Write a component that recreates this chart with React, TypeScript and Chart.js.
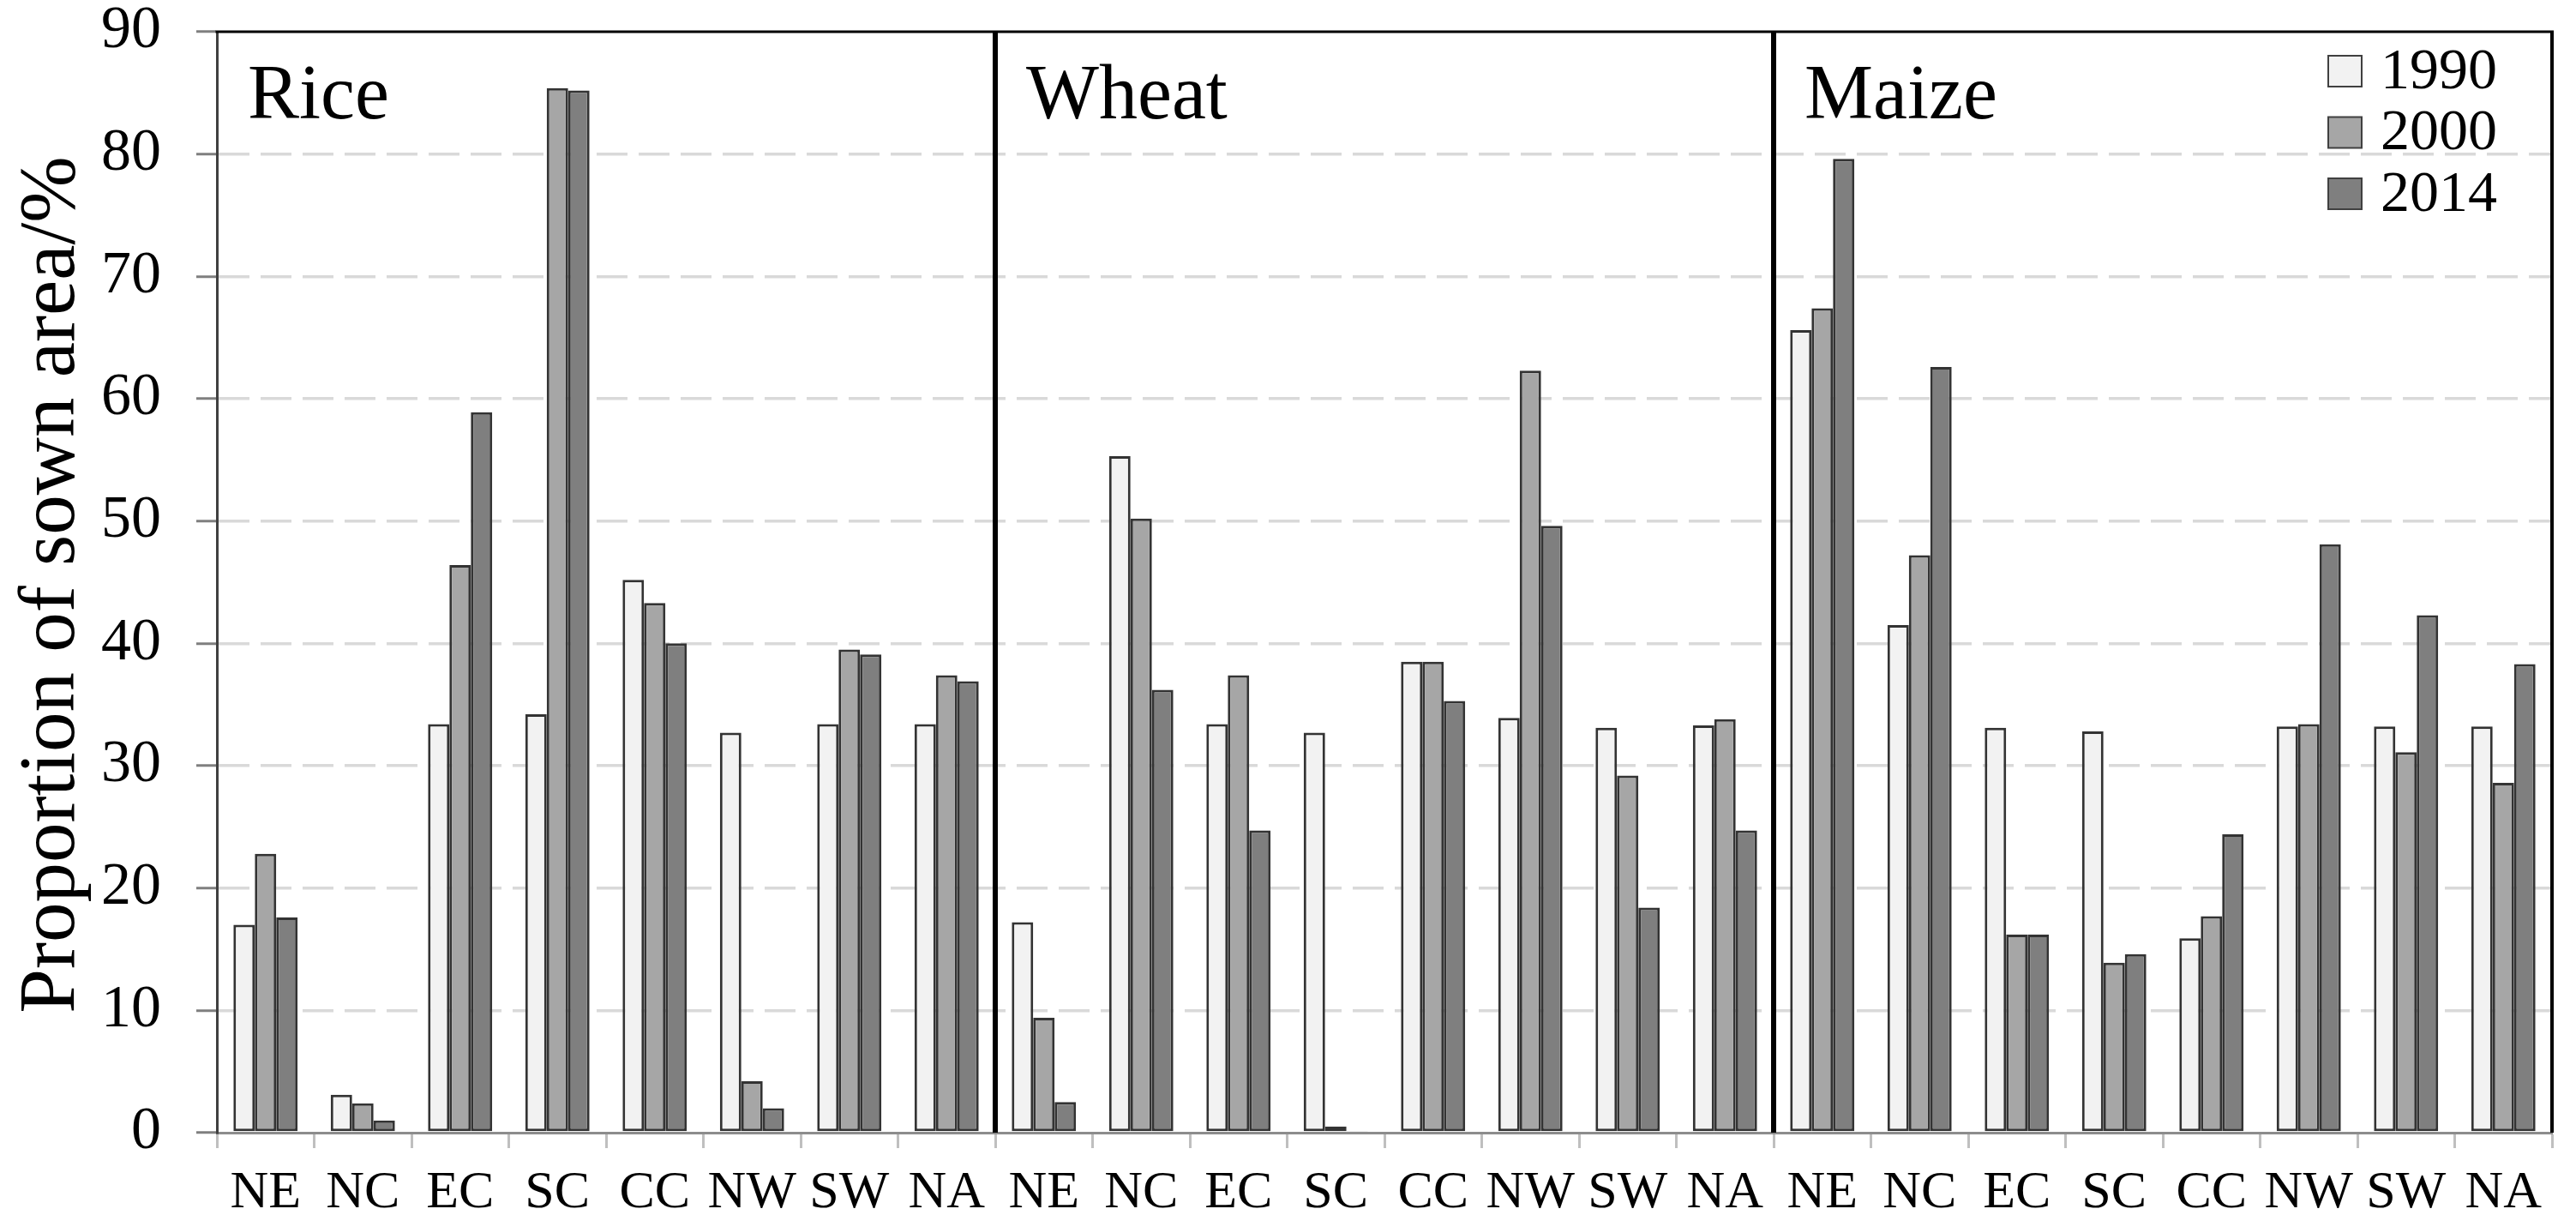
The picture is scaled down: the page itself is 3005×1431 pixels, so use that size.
import React, { useEffect, useRef } from "react";
import { Chart, registerables } from "chart.js";

Chart.register(...registerables);

// ---- data ----
const regions = ["NE", "NC", "EC", "SC", "CC", "NW", "SW", "NA"];
const crops = ["Rice", "Wheat", "Maize"];
const years = ["1990", "2000", "2014"];
const categories = crops.flatMap(() => regions);

// order: Rice (8 regions), Wheat (8 regions), Maize (8 regions)
const values1990 = [
  17.0, 3.1, 33.4, 34.2, 45.2, 32.7, 33.4, 33.4,
  17.2, 55.3, 33.4, 32.7, 38.5, 33.9, 33.1, 33.3,
  65.6, 41.5, 33.1, 32.8, 15.9, 33.2, 33.2, 33.2,
];
const values2000 = [
  22.8, 2.4, 46.4, 85.4, 43.3, 4.2, 39.5, 37.4,
  9.4, 50.2, 37.4, 0.5, 38.5, 62.3, 29.2, 33.8,
  67.4, 47.2, 16.2, 13.9, 17.7, 33.4, 31.1, 28.6,
];
const values2014 = [
  17.6, 1.0, 58.9, 85.2, 40.0, 2.0, 39.1, 36.9,
  2.5, 36.2, 24.7, 0.1, 35.3, 49.6, 18.4, 24.7,
  79.6, 62.6, 16.2, 14.6, 24.4, 48.1, 42.3, 38.3,
];
const seriesValues = [values1990, values2000, values2014];
const yMin = 0;
const yMax = 90;
const yStep = 10;
const yTitle = "Proportion of sown area/%";

// ---- style ----
const fillColors = ["#f2f2f2", "#a6a6a6", "#7f7f7f"];
const SERIF = "'Liberation Serif', 'Times New Roman', serif";

const decorPlugin = {
  id: "decor",
  afterDraw(chart: any) {
    const { ctx, chartArea: a, scales } = chart;
    const x = scales.x;
    const n = regions.length;
    ctx.save();
    // panel dividers
    const panelLefts: number[] = [a.left];
    ctx.strokeStyle = "#000";
    for (let p = 1; p < crops.length; p++) {
      const idx = p * n;
      const xb = (x.getPixelForValue(idx - 1) + x.getPixelForValue(idx)) / 2;
      panelLefts.push(xb);
      ctx.lineWidth = 6;
      ctx.beginPath();
      ctx.moveTo(xb, a.top);
      ctx.lineTo(xb, a.bottom);
      ctx.stroke();
    }
    // top border
    ctx.lineWidth = 3;
    ctx.beginPath();
    ctx.moveTo(a.left - 1.5, a.top);
    ctx.lineTo(a.right + 2, a.top);
    ctx.stroke();
    // right border
    ctx.lineWidth = 4;
    ctx.beginPath();
    ctx.moveTo(a.right, a.top);
    ctx.lineTo(a.right, a.bottom);
    ctx.stroke();

    // panel labels
    ctx.fillStyle = "#000";
    ctx.font = `90px ${SERIF}`;
    ctx.textAlign = "left";
    ctx.textBaseline = "alphabetic";
    crops.forEach((c, p) => {
      ctx.fillText(c, panelLefts[p] + 36, a.top + 101);
    });

    // legend
    const ds = chart.data.datasets;
    ctx.font = `68px ${SERIF}`;
    ctx.textBaseline = "middle";
    ds.forEach((d: any, i: number) => {
      const cy = a.top + 46 + i * 71.5;
      const sx = a.right - 261;
      ctx.fillStyle = d.backgroundColor;
      ctx.fillRect(sx, cy - 18, 39, 36);
      ctx.strokeStyle = "#404040";
      ctx.lineWidth = 2;
      ctx.strokeRect(sx, cy - 18, 39, 36);
      ctx.fillStyle = "#000";
      ctx.fillText(d.label, sx + 61, cy + 2);
    });

    // y title
    ctx.translate(86, (a.top + a.bottom) / 2 + 3);
    ctx.rotate(-Math.PI / 2);
    ctx.font = `93px ${SERIF}`;
    ctx.textAlign = "center";
    ctx.textBaseline = "alphabetic";
    ctx.fillStyle = "#000";
    ctx.fillText(yTitle, 0, 0);
    ctx.restore();
  },
};

export default function App() {
  const ref = useRef<HTMLCanvasElement>(null);
  useEffect(() => {
    const canvas = ref.current!;
    const chart = new Chart(canvas, {
      type: "bar",
      data: {
        labels: categories,
        datasets: years.map((y, i) => ({
          label: y,
          data: seriesValues[i],
          backgroundColor: fillColors[i],
          borderColor: "#333333",
          borderWidth: 3,
          borderSkipped: false,
          barPercentage: 1,
          categoryPercentage: 0.66,
        })),
      },
      options: {
        animation: false,
        responsive: false,
        devicePixelRatio: 1,
        layout: { padding: { top: 37, right: 28, bottom: 0, left: 0 } },
        plugins: {
          legend: { display: false },
          tooltip: { enabled: false },
          title: { display: false },
        },
        scales: {
          x: {
            offset: true,
            grid: {
              display: true,
              offset: true,
              drawOnChartArea: false,
              drawTicks: true,
              tickLength: 18,
              tickColor: "#bfbfbf",
              tickWidth: 3,
            },
            border: { display: true, color: "#8c8c8c", width: 3 },
            ticks: {
              font: { family: SERIF, size: 62 },
              color: "#000",
              padding: 16,
              autoSkip: false,
              maxRotation: 0,
              minRotation: 0,
            },
            afterFit: (s: any) => {
              s.height = 110;
              s.paddingLeft = 0;
              s.paddingRight = 0;
            },
          },
          y: {
            min: yMin,
            max: yMax,
            ticks: {
              stepSize: yStep,
              font: { family: SERIF, size: 70 },
              color: "#000",
              padding: 41,
            },
            grid: {
              color: (c: any) =>
                c.tick && (c.tick.value === yMin || c.tick.value === yMax)
                  ? "rgba(0,0,0,0)"
                  : "#d9d9d9",
              lineWidth: 3.5,
              drawTicks: true,
              tickLength: 24,
              tickColor: "#7f7f7f",
              tickWidth: 3,
            },
            border: { display: true, color: "#404040", width: 3, dash: [36, 13] },
            afterFit: (s: any) => {
              s.width = 253;
              s.paddingTop = 0;
              s.paddingBottom = 0;
            },
          },
        },
      },
      plugins: [decorPlugin],
    } as any);
    return () => chart.destroy();
  }, []);
  return (
    <div style={{ position: "absolute", left: 0, top: 0, width: 3005, height: 1431, background: "#fff" }}>
      <canvas ref={ref} width={3005} height={1431} style={{ display: "block" }} />
    </div>
  );
}
